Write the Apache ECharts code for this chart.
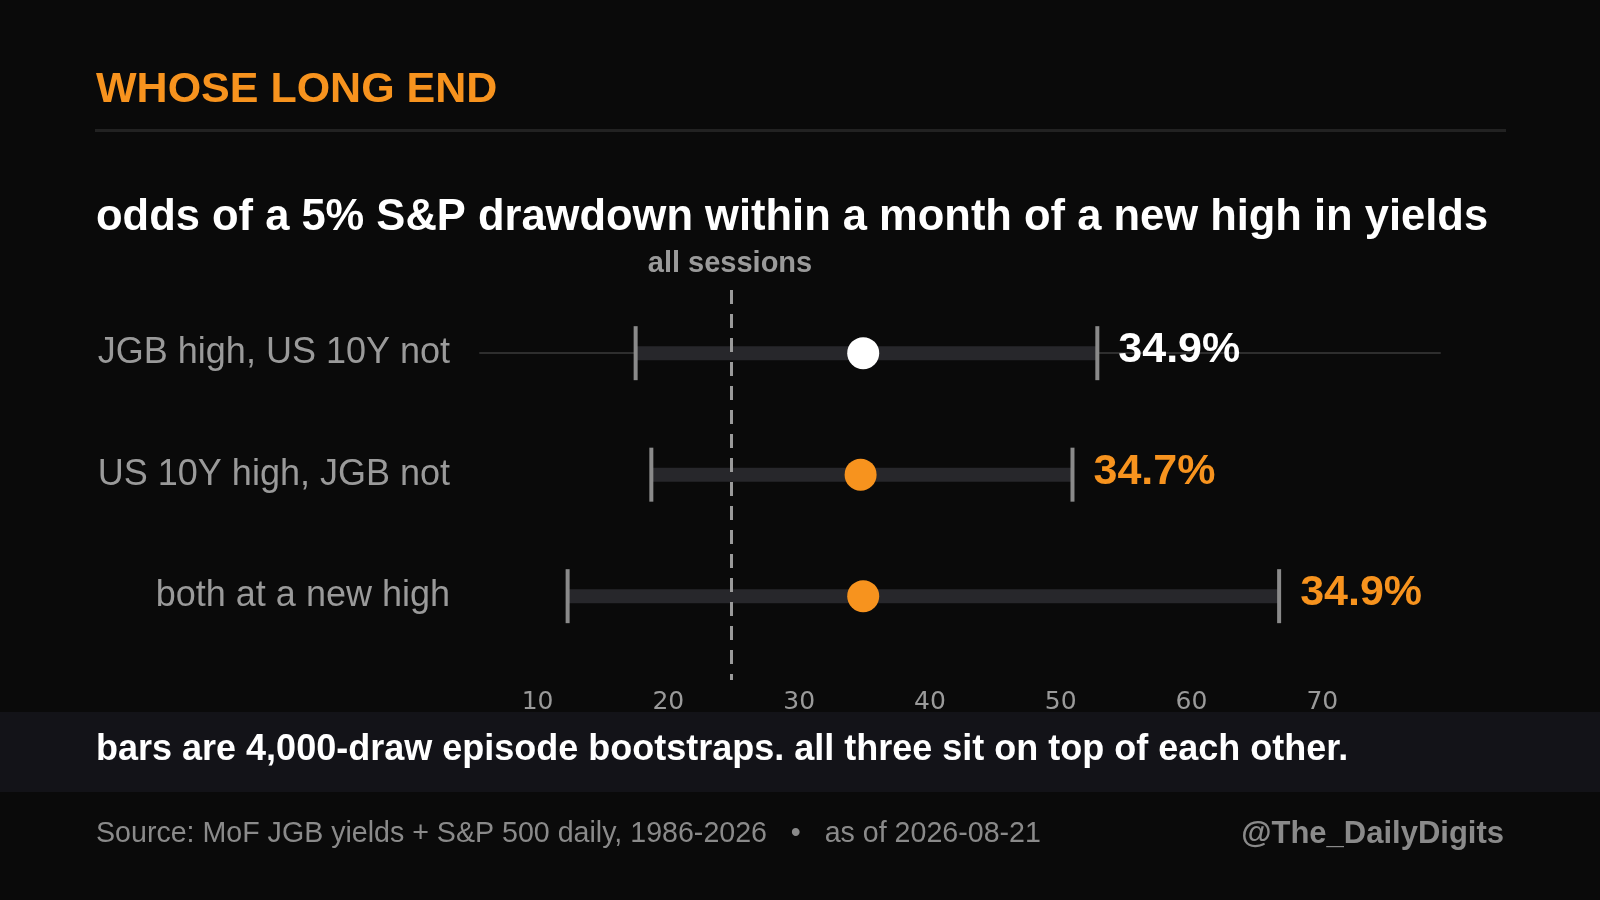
<!DOCTYPE html>
<html><head><meta charset="utf-8">
<script src="https://cdn.jsdelivr.net/npm/echarts@6/dist/echarts.min.js"></script>
<style>html,body{margin:0;background:#0a0a0a}#c{width:1600px;height:900px}</style>
</head><body><div id="c"></div>
<script>
const categories = ['JGB high, US 10Y not', 'US 10Y high, JGB not', 'both at a new high'];
const lows = [17.5, 18.7, 12.3];
const highs = [52.8, 50.9, 66.7];
const points = [34.9, 34.7, 34.9];
const baseline = 24.8;
const tickValues = [10, 20, 30, 40, 50, 60, 70];
const dotColors = ['#ffffff', '#f7931e', '#f7931e'];

const chart = echarts.init(document.getElementById('c'));
const F = 'Liberation Sans, Arial, sans-serif';
chart.setOption({
  backgroundColor: '#0a0a0a',
  animation: false,
  grid: {left: 480, right: 160, top: 290, bottom: 220},
  xAxis: {type: 'value', min: 5.6, max: 79,
    axisLine: {show: true, lineStyle: {color: '#2e2e2e', width: 2}},
    axisTick: {show: false}, splitLine: {show: false},
    axisLabel: {customValues: tickValues, color: '#9a9a9a', fontSize: 25, fontFamily: 'DejaVu Sans', margin: 10}},
  yAxis: {type: 'value', min: -0.52, max: 2.69, inverse: true,
    axisLine: {show: false}, axisTick: {show: false}, splitLine: {show: false},
    axisLabel: {customValues: [0, 1, 2], formatter: v => categories[Math.round(v)] || '',
      color: '#9a9a9a', fontSize: 36, fontFamily: F, margin: 30}},
  series: [{
    type: 'custom',
    data: categories.map((c, i) => [i, lows[i], highs[i], points[i]]),
    encode: {x: [1, 2, 3], y: 0},
    renderItem: function (params, api) {
      const i = api.value(0);
      const a = api.coord([api.value(1), i]);
      const b = api.coord([api.value(2), i]);
      const p = api.coord([api.value(3), i]);
      const col = dotColors[i];
      return {type: 'group', children: [
        {type: 'rect', shape: {x: a[0], y: a[1] - 7, width: b[0] - a[0], height: 14}, style: {fill: '#27272b'}},
        {type: 'line', shape: {x1: a[0], y1: a[1] - 27, x2: a[0], y2: a[1] + 27}, style: {stroke: '#8a8a8a', lineWidth: 4}},
        {type: 'line', shape: {x1: b[0], y1: b[1] - 27, x2: b[0], y2: b[1] + 27}, style: {stroke: '#8a8a8a', lineWidth: 4}},
        {type: 'circle', shape: {cx: p[0], cy: p[1], r: 16}, style: {fill: col}},
        {type: 'text', x: b[0] + 21, y: b[1] - 3, style: {text: api.value(3).toFixed(1) + '%', fill: col,
          font: 'bold 43px ' + F, textVerticalAlign: 'middle', textAlign: 'left'}}
      ]};
    },
    markLine: {silent: true, symbol: 'none', label: {show: false},
      lineStyle: {color: '#9a9a9a', type: [14, 10], width: 3},
      data: [{xAxis: baseline}]}
  }],
  graphic: [
    {type: 'text', x: 96, y: 90, style: {text: 'WHOSE LONG END', fill: '#f7931e', font: 'bold 43px ' + F, textVerticalAlign: 'middle'}},
    {type: 'rect', shape: {x: 95, y: 129, width: 1411, height: 3}, style: {fill: '#222'}},
    {type: 'text', x: 96, y: 218, style: {text: 'odds of a 5% S&P drawdown within a month of a new high in yields', fill: '#fff', font: 'bold 43.5px ' + F, textVerticalAlign: 'middle'}},
    {type: 'text', x: 730, y: 264, style: {text: 'all sessions', fill: '#9a9a9a', font: 'bold 29px ' + F, textAlign: 'center', textVerticalAlign: 'middle'}},
    {type: 'rect', shape: {x: 0, y: 712, width: 1600, height: 80}, style: {fill: '#131318'}},
    {type: 'text', x: 96, y: 750, style: {text: 'bars are 4,000-draw episode bootstraps. all three sit on top of each other.', fill: '#fff', font: 'bold 36px ' + F, textVerticalAlign: 'middle'}},
    {type: 'text', x: 96, y: 834, style: {text: 'Source: MoF JGB yields + S&P 500 daily, 1986-2026   •   as of 2026-08-21', fill: '#8a8a8a', font: '28.6px ' + F, textVerticalAlign: 'middle'}},
    {type: 'text', x: 1504, y: 834, style: {text: '@The_DailyDigits', fill: '#8a8a8a', font: 'bold 31px ' + F, textAlign: 'right', textVerticalAlign: 'middle'}}
  ]
});
</script></body></html>
